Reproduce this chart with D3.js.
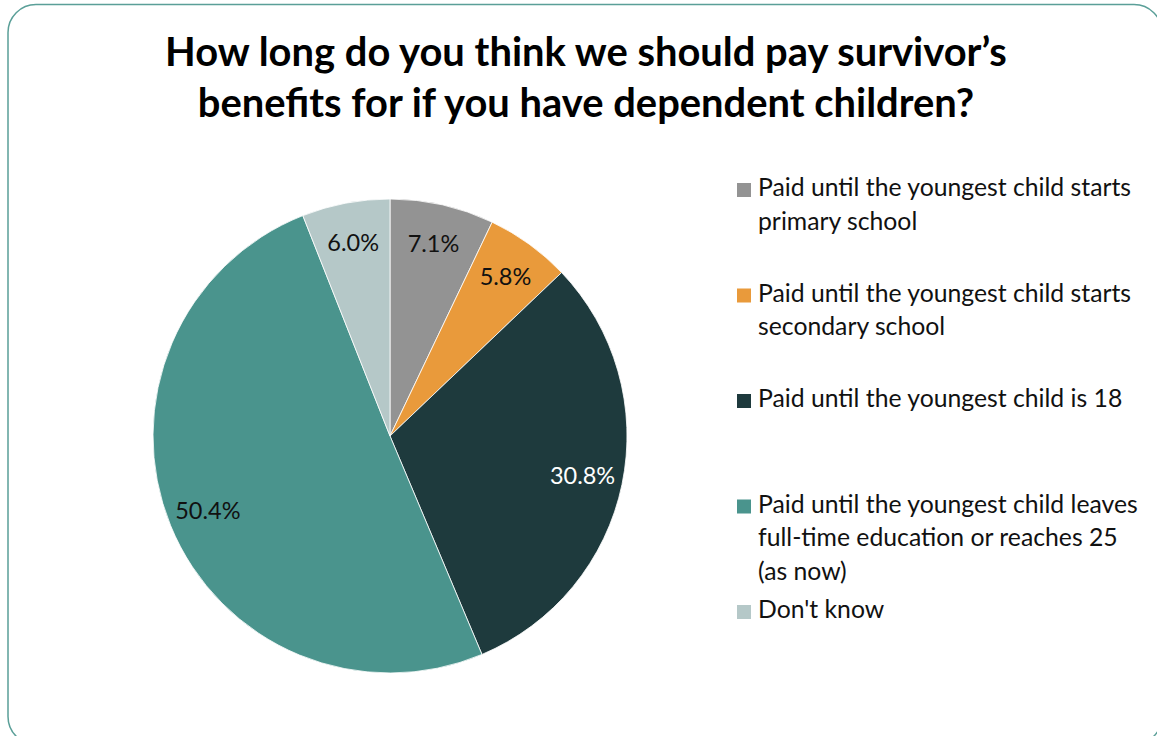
<!DOCTYPE html>
<html>
<head>
<meta charset="utf-8">
<script src="https://cdn.jsdelivr.net/npm/d3@7"></script>
<style>
  html, body { margin: 0; padding: 0; background: #fff; }
  svg { display: block; font-family: Lato, "Open Sans", sans-serif; }
</style>
</head>
<body>
<div id="chart"></div>
<script>
// data
var categories = [
  "Paid until the youngest child starts primary school",
  "Paid until the youngest child starts secondary school",
  "Paid until the youngest child is 18",
  "Paid until the youngest child leaves full-time education or reaches 25 (as now)",
  "Don't know"
];
var legendLines = [
  ["Paid until the youngest child starts", "primary school"],
  ["Paid until the youngest child starts", "secondary school"],
  ["Paid until the youngest child is 18"],
  ["Paid until the youngest child leaves", "full-time education or reaches 25", "(as now)"],
  ["Don't know"]
];
var values = [7.1, 5.8, 30.8, 50.4, 6.0];
var colors = ["#939393", "#E99A3B", "#1E3A3D", "#4A948D", "#B5C8C8"];
var labelColors = ["#111", "#111", "#fff", "#111", "#111"];
var titleLines = ["How long do you think we should pay survivor\u2019s", "benefits for if you have dependent children?"];

var width = 1157, height = 736;

var svg = d3.select("#chart").append("svg")
    .attr("width", width)
    .attr("height", height);

// frame
svg.append("rect")
    .attr("x", 8).attr("y", 4.5)
    .attr("width", 1154).attr("height", 740)
    .attr("rx", 28).attr("ry", 28)
    .style("fill", "#fff")
    .style("stroke", "#5A9F98")
    .style("stroke-width", 1.5);

// title, fitted to width of the original
var title = svg.append("g").attr("class", "title");
var titleText = title.selectAll("text")
    .data(titleLines)
    .enter().append("text")
    .attr("x", 586)
    .attr("y", function (d, i) { return 66 + i * 51; })
    .attr("text-anchor", "middle")
    .style("font-weight", "bold")
    .style("font-size", "36px")
    .style("fill", "#000")
    .text(function (d) { return d; });
var w0 = titleText.node().getComputedTextLength();
titleText.style("font-size", (36 * 842 / w0).toFixed(2) + "px");

// pie
var cx = 390, cy = 436, radius = 237;
var pie = d3.pie().sort(null).value(function (d) { return d; });
var arc = d3.arc().innerRadius(0).outerRadius(radius);
var labelArc = d3.arc().innerRadius(radius * 0.83).outerRadius(radius * 0.83);
var arcs = pie(values);

var g = svg.append("g").attr("transform", "translate(" + cx + "," + cy + ")");
g.selectAll("path")
    .data(arcs)
    .enter().append("path")
    .attr("d", arc)
    .style("fill", function (d, i) { return colors[i]; })
    .style("stroke", "#fff")
    .style("stroke-width", 0.8);

g.selectAll("text.lbl")
    .data(arcs)
    .enter().append("text")
    .attr("class", "lbl")
    .attr("transform", function (d) { return "translate(" + labelArc.centroid(d) + ")"; })
    .attr("text-anchor", "middle")
    .attr("dy", "0.35em")
    .style("font-size", "23.5px")
    .style("fill", function (d, i) { return labelColors[i]; })
    .text(function (d) { return d.data.toFixed(1) + "%"; });

// legend
var ly = d3.scaleLinear().domain([0, categories.length - 1]).range([196, 618]);
var legend = svg.append("g").attr("class", "legend");
var items = legend.selectAll("g")
    .data(categories)
    .enter().append("g")
    .attr("transform", function (d, i) { return "translate(737," + ly(i) + ")"; });

items.append("rect")
    .attr("x", 0).attr("y", -13)
    .attr("width", 14).attr("height", 14)
    .style("fill", function (d, i) { return colors[i]; });

var ltext = items.append("text")
    .attr("x", 21)
    .style("font-size", "21px")
    .style("fill", "#111");
ltext.selectAll("tspan")
    .data(function (d, i) { return legendLines[i]; })
    .enter().append("tspan")
    .attr("x", 21)
    .attr("y", function (d, j) { return j * 33.5; })
    .text(function (d) { return d; });

var lw = ltext.filter(function (d, i) { return i === 0; }).select("tspan").node().getComputedTextLength();
ltext.style("font-size", (21 * 373 / lw).toFixed(2) + "px");
</script>
</body>
</html>
